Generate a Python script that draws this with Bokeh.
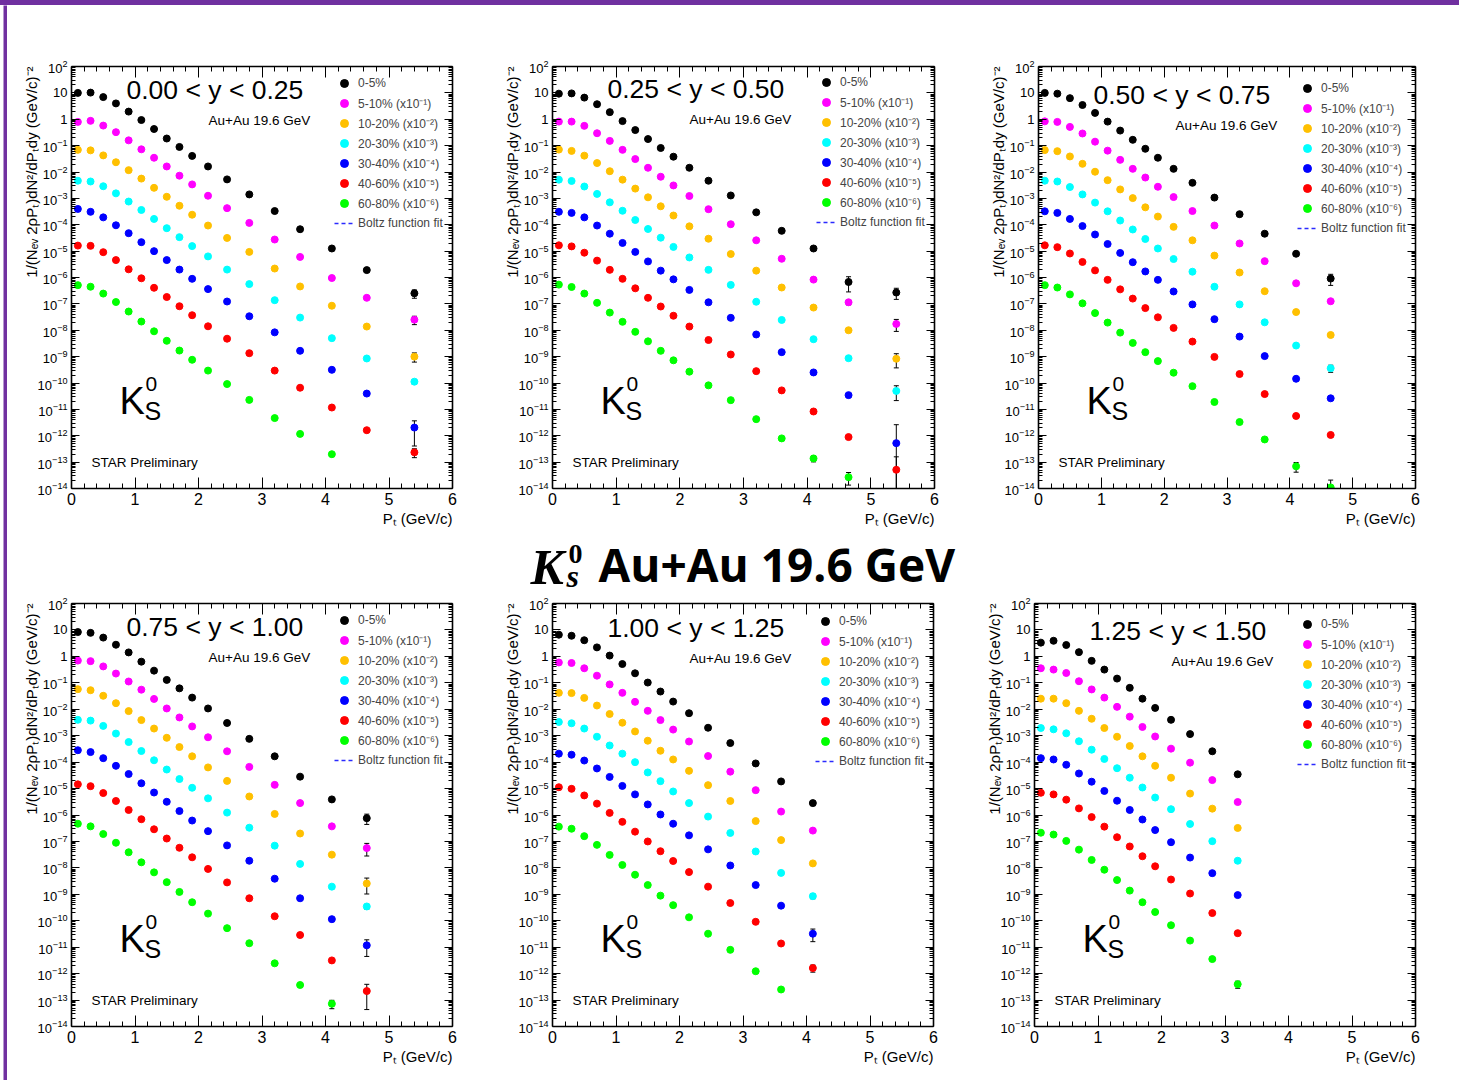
from bokeh.embed import file_html
from bokeh.layouts import column, row
from bokeh.models import (ColumnDataSource, Div, FixedTicker, Label, Legend, LegendItem,
                          LinearAxis, LogAxis, LogTickFormatter, Range1d, TeeHead, Title, Whisker)
from bokeh.plotting import figure
from bokeh.resources import INLINE

# ---------------------------------------------------------------------------
# K0s invariant yields, Au+Au 19.6 GeV, six rapidity windows, seven centralities.
# Values are log10 of the plotted (already scaled) yields.
# ---------------------------------------------------------------------------
PT = [0.1, 0.3, 0.5, 0.7, 0.9, 1.1, 1.3, 1.5, 1.7, 1.9, 2.15, 2.45, 2.8, 3.2, 3.6, 4.1, 4.65, 5.4]

CENTRALITY = ["0-5%", "5-10% (x10\u207b\u00b9)", "10-20% (x10\u207b\u00b2)", "20-30% (x10\u207b\u00b3)",
              "30-40% (x10\u207b\u2074)", "40-60% (x10\u207b\u2075)", "60-80% (x10\u207b\u2076)"]
COLORS = ["#000000", "#ff00ff", "#ffc000", "#00ffff", "#0000ff", "#ff0000", "#00ff00"]
RAPIDITY = ["0.00 < y < 0.25", "0.25 < y < 0.50", "0.50 < y < 0.75",
            "0.75 < y < 1.00", "1.00 < y < 1.25", "1.25 < y < 1.50"]

LOG_Y1 = [
    [1.00, 1.01, 0.84, 0.60, 0.29, -0.03, -0.37, -0.73, -1.05, -1.39, -1.79, -2.28, -2.85, -3.48, -4.17, -4.90, -5.72, -6.60],
    [-0.10, -0.06, -0.24, -0.49, -0.80, -1.14, -1.46, -1.79, -2.14, -2.47, -2.90, -3.37, -3.93, -4.56, -5.22, -6.02, -6.77, -7.60],
    [-1.16, -1.18, -1.37, -1.63, -1.93, -2.25, -2.60, -2.94, -3.28, -3.62, -4.03, -4.50, -5.03, -5.66, -6.34, -7.07, -7.86, -9.00],
    [-2.33, -2.36, -2.54, -2.81, -3.12, -3.44, -3.78, -4.13, -4.47, -4.81, -5.20, -5.70, -6.25, -6.86, -7.52, -8.30, -9.07, -9.95],
    [-3.40, -3.51, -3.72, -4.02, -4.32, -4.66, -5.00, -5.34, -5.70, -6.05, -6.44, -6.91, -7.47, -8.08, -8.78, -9.50, -10.40, -11.69],
    [-4.79, -4.80, -5.04, -5.34, -5.69, -6.03, -6.39, -6.74, -7.09, -7.43, -7.85, -8.32, -8.87, -9.53, -10.18, -10.93, -11.79, -12.63],
    [-6.29, -6.35, -6.61, -6.93, -7.29, -7.67, -8.04, -8.40, -8.77, -9.12, -9.53, -10.04, -10.64, -11.33, -11.93, -12.70],
]
LOG_Y2 = [
    [0.97, 0.98, 0.82, 0.57, 0.27, -0.07, -0.41, -0.75, -1.09, -1.42, -1.84, -2.33, -2.89, -3.53, -4.23, -4.90, -6.17, -6.57],
    [-0.09, -0.09, -0.25, -0.53, -0.82, -1.16, -1.51, -1.84, -2.18, -2.51, -2.91, -3.41, -3.98, -4.59, -5.29, -6.08, -6.94, -7.76],
    [-1.15, -1.20, -1.38, -1.66, -1.97, -2.29, -2.63, -2.96, -3.30, -3.65, -4.06, -4.53, -5.11, -5.74, -6.38, -7.14, -8.00, -9.08],
    [-2.29, -2.34, -2.55, -2.83, -3.15, -3.47, -3.82, -4.16, -4.49, -4.84, -5.24, -5.71, -6.28, -6.92, -7.61, -8.34, -9.06, -10.30],
    [-3.51, -3.55, -3.72, -4.03, -4.34, -4.69, -5.03, -5.39, -5.74, -6.07, -6.47, -6.94, -7.53, -8.16, -8.83, -9.60, -10.46, -12.28],
    [-4.78, -4.82, -5.06, -5.36, -5.71, -6.05, -6.41, -6.77, -7.10, -7.45, -7.86, -8.37, -8.92, -9.55, -10.28, -11.08, -12.05, -13.29],
    [-6.27, -6.36, -6.61, -6.96, -7.33, -7.68, -8.06, -8.42, -8.78, -9.14, -9.57, -10.09, -10.65, -11.37, -12.10, -12.86, -13.57],
]
LOG_Y3 = [
    [1.00, 0.97, 0.80, 0.54, 0.24, -0.09, -0.43, -0.78, -1.12, -1.46, -1.88, -2.41, -2.97, -3.60, -4.34, -5.10, -6.04],
    [-0.08, -0.10, -0.29, -0.54, -0.85, -1.19, -1.54, -1.88, -2.21, -2.56, -2.95, -3.48, -4.03, -4.71, -5.38, -6.22, -6.90],
    [-1.17, -1.21, -1.41, -1.69, -1.99, -2.31, -2.66, -2.99, -3.34, -3.69, -4.08, -4.59, -5.17, -5.81, -6.52, -7.31, -8.18],
    [-2.33, -2.36, -2.57, -2.85, -3.16, -3.49, -3.84, -4.18, -4.54, -4.90, -5.30, -5.78, -6.35, -7.02, -7.70, -8.58, -9.44],
    [-3.49, -3.55, -3.78, -4.05, -4.37, -4.73, -5.07, -5.42, -5.77, -6.09, -6.53, -7.02, -7.58, -8.24, -8.98, -9.84, -10.58],
    [-4.78, -4.85, -5.09, -5.41, -5.73, -6.09, -6.45, -6.80, -7.16, -7.51, -7.91, -8.43, -9.01, -9.66, -10.42, -11.25, -11.97],
    [-6.29, -6.38, -6.64, -6.98, -7.35, -7.71, -8.09, -8.48, -8.83, -9.17, -9.61, -10.12, -10.72, -11.48, -12.14, -13.16, -13.96],
]
LOG_Y4 = [
    [0.92, 0.89, 0.71, 0.44, 0.15, -0.20, -0.54, -0.89, -1.21, -1.56, -1.97, -2.52, -3.12, -3.78, -4.55, -5.41, -6.12],
    [-0.16, -0.18, -0.38, -0.65, -0.95, -1.26, -1.61, -1.97, -2.31, -2.65, -3.06, -3.59, -4.18, -4.86, -5.55, -6.43, -7.25],
    [-1.24, -1.28, -1.49, -1.77, -2.07, -2.41, -2.73, -3.08, -3.43, -3.78, -4.20, -4.71, -5.30, -5.96, -6.70, -7.50, -8.59],
    [-2.40, -2.43, -2.63, -2.92, -3.24, -3.58, -3.93, -4.28, -4.64, -4.97, -5.37, -5.91, -6.48, -7.16, -7.85, -8.71, -9.46],
    [-3.55, -3.62, -3.85, -4.14, -4.45, -4.80, -5.15, -5.50, -5.85, -6.21, -6.61, -7.15, -7.73, -8.41, -9.15, -9.94, -10.93],
    [-4.84, -4.91, -5.17, -5.47, -5.81, -6.16, -6.54, -6.89, -7.24, -7.60, -8.04, -8.55, -9.15, -9.83, -10.54, -11.50, -12.66],
    [-6.33, -6.43, -6.72, -7.05, -7.41, -7.79, -8.17, -8.54, -8.91, -9.30, -9.73, -10.28, -10.85, -11.61, -12.43, -13.14],
]
LOG_Y5 = [
    [0.82, 0.78, 0.61, 0.34, 0.03, -0.29, -0.64, -0.99, -1.33, -1.71, -2.15, -2.70, -3.28, -4.05, -4.73, -5.55],
    [-0.23, -0.25, -0.45, -0.73, -1.06, -1.38, -1.72, -2.06, -2.41, -2.77, -3.22, -3.77, -4.36, -5.06, -5.87, -6.59],
    [-1.38, -1.39, -1.57, -1.86, -2.18, -2.51, -2.84, -3.19, -3.57, -3.90, -4.33, -4.87, -5.47, -6.23, -6.95, -7.83],
    [-2.48, -2.53, -2.73, -3.04, -3.37, -3.68, -4.00, -4.39, -4.72, -5.11, -5.55, -6.06, -6.68, -7.38, -8.19, -9.07],
    [-3.68, -3.72, -3.94, -4.24, -4.56, -4.90, -5.22, -5.60, -5.98, -6.33, -6.77, -7.30, -7.91, -8.65, -9.43, -10.49],
    [-4.95, -5.01, -5.26, -5.57, -5.92, -6.26, -6.63, -7.00, -7.37, -7.74, -8.16, -8.71, -9.33, -10.04, -10.86, -11.79],
    [-6.44, -6.52, -6.80, -7.13, -7.51, -7.89, -8.26, -8.65, -9.05, -9.41, -9.87, -10.49, -11.10, -11.91, -12.60],
]
LOG_Y6 = [
    [0.52, 0.59, 0.43, 0.16, -0.17, -0.50, -0.84, -1.19, -1.60, -1.95, -2.40, -2.94, -3.59, -4.46],
    [-0.45, -0.50, -0.63, -0.94, -1.25, -1.56, -1.91, -2.28, -2.67, -3.03, -3.49, -4.02, -4.68, -5.51],
    [-1.60, -1.60, -1.77, -2.06, -2.36, -2.71, -3.04, -3.39, -3.78, -4.14, -4.59, -5.19, -5.76, -6.49],
    [-2.71, -2.76, -2.91, -3.21, -3.53, -3.88, -4.23, -4.59, -4.96, -5.34, -5.78, -6.34, -6.99, -7.73],
    [-3.85, -3.90, -4.10, -4.43, -4.74, -5.09, -5.46, -5.81, -6.17, -6.57, -7.03, -7.61, -8.20, -9.03],
    [-5.16, -5.22, -5.42, -5.75, -6.08, -6.44, -6.84, -7.19, -7.56, -7.94, -8.44, -8.97, -9.71, -10.47],
    [-6.67, -6.74, -6.98, -7.31, -7.70, -8.07, -8.46, -8.86, -9.30, -9.67, -10.17, -10.75, -11.45, -12.40],
]

# (centrality index, pT index, relative statistical error) for the visible error bars
ERR_Y1 = [(0, 17, 0.35), (1, 17, 0.35), (2, 17, 0.38), (3, 17, 0.20), (4, 17, 0.80), (5, 17, 0.37)]
ERR_Y2 = [(0, 16, 0.58), (0, 17, 0.45), (1, 16, 0.20), (1, 17, 0.48), (2, 17, 0.55), (3, 17, 0.57),
          (4, 17, 4.0), (5, 17, 2.1), (6, 15, 0.26), (6, 16, 0.50)]
ERR_Y3 = [(0, 16, 0.45), (1, 16, 0.15), (2, 16, 0.15), (3, 16, 0.30), (6, 15, 0.40), (6, 16, 0.90)]
ERR_Y4 = [(0, 16, 0.42), (1, 16, 0.50), (2, 16, 0.60), (3, 16, 0.20), (4, 16, 0.62), (5, 16, 0.80), (6, 15, 0.35)]
ERR_Y5 = [(0, 15, 0.20), (1, 15, 0.15), (2, 15, 0.15), (3, 15, 0.20), (4, 15, 0.50), (5, 15, 0.30), (6, 14, 0.15)]
ERR_Y6 = [(0, 13, 0.15), (6, 13, 0.30)]

FONT = "Liberation Sans"
PURPLE = "#7030a0"
Y_MIN, Y_MAX = 1e-14, 1e2
X_TITLE = "P\u209c (GeV/c)"
Y_TITLE = "1/(N\u2091\u1d65 2\u03c1P\u209c)dN\u00b2/dP\u209cdy (GeV/c)\u207b\u00b2"


def screen_label(p, text, x, y, size, font=FONT, style="normal"):
    p.add_layout(Label(text=text, x=x, y=y, x_units="screen", y_units="screen",
                       text_font=font, text_font_size=f"{size}px", text_font_style=style,
                       text_color="black", text_align="left", text_baseline="alphabetic"))


def side_title(p, text, side, standoff):
    p.add_layout(Title(text=text, align="right", standoff=standoff, text_font=FONT,
                       text_font_size="15px", text_font_style="normal", text_color="black"), side)


def make_panel(rap, logy, errs, W, H, bl, br, bt, bb):
    fw, fh = W - bl - br, H - bt - bb
    p = figure(width=W, height=H, x_range=Range1d(0, 6), y_range=Range1d(Y_MIN, Y_MAX),
               y_axis_type="log", output_backend="svg", toolbar_location=None, title=None,
               min_border_left=bl, min_border_right=br, min_border_top=bt, min_border_bottom=bb)
    p.outline_line_color = None
    p.grid.visible = False

    x_major = list(range(0, 7))
    x_minor = [round(0.2 * i, 1) for i in range(31) if i % 5]
    y_major = [10.0 ** k for k in range(-14, 3)]
    y_minor = [m * 10.0 ** k for k in range(-14, 2) for m in range(2, 10)]

    p.add_layout(LinearAxis(), "above")
    p.add_layout(LogAxis(), "right")
    for ax in p.xaxis:
        ax.ticker = FixedTicker(ticks=x_major, minor_ticks=x_minor)
        ax.major_tick_in, ax.major_tick_out = 11, 0
        ax.minor_tick_in, ax.minor_tick_out = 5, 0
    for ax in p.yaxis:
        ax.ticker = FixedTicker(ticks=y_major, minor_ticks=y_minor)
        ax.formatter = LogTickFormatter()
        ax.major_tick_in, ax.major_tick_out = 8, 0
        ax.minor_tick_in, ax.minor_tick_out = 4, 0
    for ax in list(p.xaxis) + list(p.yaxis):
        ax.axis_line_width = 1.6
        ax.major_tick_line_width = 1
        ax.minor_tick_line_width = 1
        ax.major_label_text_font = FONT
        ax.major_label_text_color = "black"
    p.below[0].major_label_text_font_size = "16px"
    p.below[0].major_label_standoff = 4
    p.left[0].major_label_text_font_size = "13px"
    p.left[0].major_label_standoff = 4
    p.left[0].major_label_overrides = {1: "1", 10: "10"}
    # mirrored frame axes carry ticks only
    p.above[0].major_label_overrides = {t: "" for t in x_major}
    p.right[0].major_label_overrides = {t: "" for t in y_major}

    # axis titles, right-aligned at the frame end as in ROOT
    side_title(p, X_TITLE, "below", 0)
    side_title(p, Y_TITLE, "left", -10)

    # spectra and error bars
    items = []
    for ci, (vals, color) in enumerate(zip(logy, COLORS)):
        xs = PT[:len(vals)]
        ys = [10.0 ** v for v in vals]
        eb = [(PT[j], ys[j], rel) for (c, j, rel) in errs if c == ci]
        if eb:
            src = ColumnDataSource(dict(
                x=[e[0] for e in eb],
                upper=[e[1] * (1 + e[2]) for e in eb],
                lower=[max(e[1] * (1 - e[2]), Y_MIN) for e in eb]))
            p.add_layout(Whisker(source=src, base="x", upper="upper", lower="lower",
                                 dimension="height", line_color="black", line_width=1,
                                 upper_head=TeeHead(size=5, line_color="black", line_width=1),
                                 lower_head=TeeHead(size=5, line_color="black", line_width=1)))
        r = p.scatter(xs, ys, marker="circle", size=7, fill_color=color, line_color=color)
        items.append(LegendItem(label=CENTRALITY[ci], renderers=[r]))
    fit = p.line(x=[0.0], y=[1e-20], line_color="#2a2aff", line_dash="4 3", line_width=1.5)
    items.append(LegendItem(label="Boltz function fit", renderers=[fit]))

    legend = Legend(items=items, location=(fw - 118, fh - 173), orientation="vertical",
                    background_fill_alpha=0, border_line_color=None, padding=0, margin=0,
                    spacing=0, glyph_width=20, glyph_height=20, label_height=20,
                    label_standoff=4, label_text_font=FONT, label_text_font_size="12px")
    p.add_layout(legend)

    # in-frame texts
    screen_label(p, rap, 55, fh - 29, 26.5)
    screen_label(p, "Au+Au 19.6 GeV", 137, fh - 60, 13.5)
    screen_label(p, "K", 48, 88, 38)
    screen_label(p, "0", 74, 105, 21)
    screen_label(p, "S", 73, 78, 25)
    screen_label(p, "STAR Preliminary", 20, 26, 13.5)
    return p


p1 = make_panel(RAPIDITY[0], LOG_Y1, ERR_Y1, 481, 530, 64, 36, 61, 41)
p2 = make_panel(RAPIDITY[1], LOG_Y2, ERR_Y2, 486, 530, 64, 40, 56, 45)
p3 = make_panel(RAPIDITY[2], LOG_Y3, ERR_Y3, 478, 530, 64, 37, 60, 47)
p4 = make_panel(RAPIDITY[3], LOG_Y4, ERR_Y4, 481, 486, 64, 36, 9, 48)
p5 = make_panel(RAPIDITY[4], LOG_Y5, ERR_Y5, 482, 486, 64, 37, 8, 50)
p6 = make_panel(RAPIDITY[5], LOG_Y6, ERR_Y6, 478, 486, 64, 33, 7, 54)

# page title band between the two rows of panels
band = figure(width=1452, height=59, x_range=Range1d(0, 1), y_range=Range1d(0, 1),
              x_axis_type=None, y_axis_type=None, toolbar_location=None, title=None,
              output_backend="svg", min_border=0)
band.outline_line_color = None
band.grid.visible = False
screen_label(band, "K", 523, 28, 50, font="Liberation Serif", style="bold italic")
screen_label(band, "0", 561, 41, 28, font="Liberation Serif", style="bold")
screen_label(band, "s", 559, 18.5, 32, font="Liberation Serif", style="bold italic")
screen_label(band, "Au+Au 19.6 GeV", 591, 30.5, 46, font="Open Sans", style="bold")

# purple slide frame
top_bar = Div(text="", width=1459, height=5, margin=0, styles={"background-color": PURPLE})
left_bar = figure(width=7, height=1075, toolbar_location=None, output_backend="svg", title=None,
                  x_range=Range1d(0, 1), y_range=Range1d(0, 1),
                  x_axis_type=None, y_axis_type=None, min_border_left=3, min_border_right=0,
                  min_border_top=0, min_border_bottom=0)
left_bar.background_fill_color = PURPLE
left_bar.border_fill_color = "white"
left_bar.outline_line_color = None
left_bar.grid.visible = False

page = column(top_bar, row(left_bar, column(row(p1, p2, p3), band, row(p4, p5, p6))))

open("out.html", "w").write(file_html(page, INLINE))
